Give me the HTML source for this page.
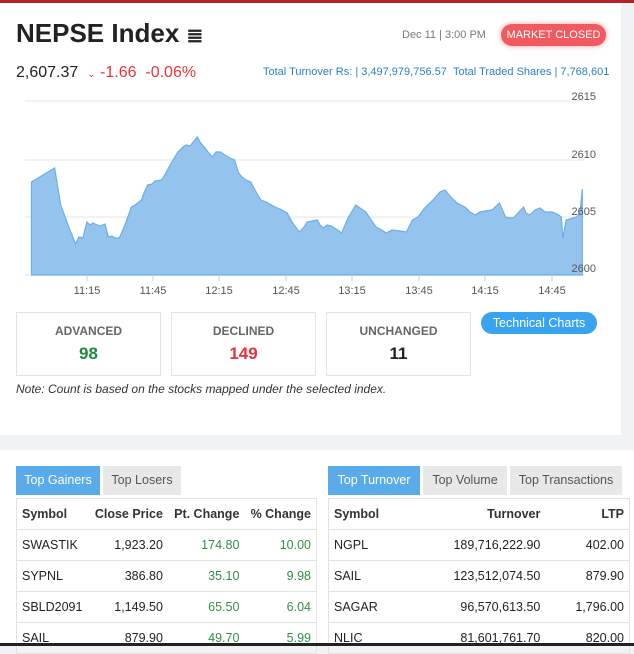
<!DOCTYPE html>
<html><head><style>
*{margin:0;padding:0;box-sizing:border-box}
body{width:634px;height:646px;background:#f0f2f5;font-family:"Liberation Sans",sans-serif;position:relative;overflow:hidden;color:#222}
.a{position:absolute}
.card{background:#fff}
.box{position:absolute;top:312px;width:145px;height:64px;border:1px solid #e3e3e3;text-align:center}
.box .l{font-size:12px;font-weight:bold;color:#666;margin-top:11px}
.box .v{font-size:17px;font-weight:bold;margin-top:6px}
.tab{position:absolute;top:466px;height:29px;line-height:29px;font-size:12.5px;text-align:center;background:#e8e8e8;color:#555}
.tab.on{background:#5aabea;color:#fff}
table{position:absolute;top:498px;border-collapse:collapse;font-size:12.5px;border-top:1px solid #e3e3e3}
td,th{height:31px;border-bottom:1px solid #e3e3e3;padding:0 5px;white-space:nowrap}
th{font-weight:bold;color:#333}
.g{color:#2e9148}
</style></head><body>
<div class="a" style="left:0;top:0;width:634px;height:3px;background:#b3232a"></div>
<div class="a card" style="left:0;top:3px;width:621px;height:432px"></div>
<div class="a card" style="left:0;top:450px;width:634px;height:196px"></div>
<div class="a" style="left:16px;top:18px;font-size:26px;font-weight:bold;color:#222">NEPSE Index <span style="font-size:20px">≣</span></div>
<div class="a" style="left:402px;top:29px;font-size:11px;color:#777">Dec 11 | 3:00 PM</div>
<div class="a" style="left:501px;top:24px;width:105px;height:22px;border-radius:11px;background:#f25a5f;color:#fff;font-size:11px;line-height:22px;text-align:center;box-shadow:0 0 6px #f7a0a0">MARKET CLOSED</div>
<div class="a" style="left:16px;top:64px;font-size:16px;color:#222">2,607.37 <span style="color:#e8333a;font-size:16px">&nbsp;<span style="font-size:10px">⌄</span> -1.66 &nbsp;-0.06%</span></div>
<div class="a" style="left:263px;top:66px;font-size:11px;color:#2a7fc4">Total Turnover Rs: | 3,497,979,756.57 &nbsp;Total Traded Shares | 7,768,601</div>
<svg class="a" style="left:0;top:0" width="634" height="300">
<g stroke="#e5e5e5" stroke-width="1"><line x1="25" y1="101" x2="584" y2="101"/><line x1="25" y1="160" x2="584" y2="160"/><line x1="25" y1="217" x2="584" y2="217"/><line x1="25" y1="275" x2="584" y2="275"/></g>
<polygon fill="#94c4ee" stroke="#6aaee6" stroke-width="1.2" points="31.5,182 54.6,168 60.7,205 68.7,227 72,235 75.6,244 78.9,237 82.9,238 86.9,222 90,225 93,223 95,224 100,226 105,224 108.4,237 112,236 115,238 119.3,238 125,225 131.4,207 135,205 141.5,200 144,193 147.6,185 152,184 155,181 161.7,180 165.8,173 170,165 177.9,152 183,147 186,145 190,146 197.3,137 200,142 204.2,147 208,152 212.3,157 216,152 220.4,152 225,155 230,158 234.5,160 238.6,173 242,177 246,180 250.7,182 255,190 260.8,200 266,202 275,207 280,209 287.1,213 292,222 299.2,232 304,227 307.3,222 312,221 317.4,220 320,225 323.5,228 327,225 331.6,226 336,229 341.7,233 348,218 355.8,205 360,208 366,212 371,220 376,227 380,229 386.2,233 392,230 400,231 406.4,232 412.5,220 418,217 424.6,208 433,200 440,192 444.8,190 450,196 457,203 461,205 465,207 470,212 475.1,215 480,212 485.2,211 492,210 499.4,203 505.5,217 509,218 513.5,218 518,213 523.6,207 526,213 529.7,215 535,210 539.8,208 545,212 552,212 557,214 561.3,217 562.9,238 566.1,220 570,219 576.2,217 580,213 582.3,189 582.3,275 31.5,275"/>
<g font-size="11" fill="#555" text-anchor="end"><text x="596" y="100">2615</text><text x="596" y="158">2610</text><text x="596" y="215">2605</text><text x="596" y="272">2600</text></g>
<g stroke="#ccc"><line x1="87" y1="275" x2="87" y2="281"/><line x1="153" y1="275" x2="153" y2="281"/><line x1="219" y1="275" x2="219" y2="281"/><line x1="286" y1="275" x2="286" y2="281"/><line x1="352" y1="275" x2="352" y2="281"/><line x1="419" y1="275" x2="419" y2="281"/><line x1="485" y1="275" x2="485" y2="281"/><line x1="552" y1="275" x2="552" y2="281"/></g>
<g font-size="11" fill="#555" text-anchor="middle"><text x="87" y="294">11:15</text><text x="153" y="294">11:45</text><text x="219" y="294">12:15</text><text x="286" y="294">12:45</text><text x="352" y="294">13:15</text><text x="419" y="294">13:45</text><text x="485" y="294">14:15</text><text x="552" y="294">14:45</text></g>
</svg>
<div class="box" style="left:16px"><div class="l">ADVANCED</div><div class="v" style="color:#1f8a3b">98</div></div>
<div class="box" style="left:171px"><div class="l">DECLINED</div><div class="v" style="color:#e8333a">149</div></div>
<div class="box" style="left:326px"><div class="l">UNCHANGED</div><div class="v" style="color:#222">11</div></div>
<div class="a" style="left:481px;top:312px;width:116px;height:22px;border-radius:11px;background:#3aa3f0;color:#fff;font-size:12.5px;line-height:22px;text-align:center">Technical Charts</div>
<div class="a" style="left:16px;top:382px;font-size:12px;font-style:italic;color:#333">Note: Count is based on the stocks mapped under the selected index.</div>
<div class="tab on" style="left:16px;width:84px">Top Gainers</div>
<div class="tab" style="left:103px;width:78px">Top Losers</div>
<div class="tab on" style="left:328px;width:92px">Top Turnover</div>
<div class="tab" style="left:423px;width:84px">Top Volume</div>
<div class="tab" style="left:510px;width:112px">Top Transactions</div>
<table style="left:16px;width:301px;border-left:1px solid #e3e3e3;border-right:1px solid #e3e3e3">
<tr><th style="text-align:left">Symbol</th><th style="text-align:right">Close Price</th><th style="text-align:right">Pt. Change</th><th style="text-align:right">% Change</th></tr>
<tr><td>SWASTIK</td><td align="right">1,923.20</td><td align="right" class="g">174.80</td><td align="right" class="g">10.00</td></tr>
<tr><td>SYPNL</td><td align="right">386.80</td><td align="right" class="g">35.10</td><td align="right" class="g">9.98</td></tr>
<tr><td>SBLD2091</td><td align="right">1,149.50</td><td align="right" class="g">65.50</td><td align="right" class="g">6.04</td></tr>
<tr><td>SAIL</td><td align="right">879.90</td><td align="right" class="g">49.70</td><td align="right" class="g">5.99</td></tr>
</table>
<table style="left:328px;width:302px;border-left:1px solid #e3e3e3;border-right:1px solid #e3e3e3">
<tr><th style="text-align:left">Symbol</th><th style="text-align:right">Turnover</th><th style="text-align:right">LTP</th></tr>
<tr><td>NGPL</td><td align="right">189,716,222.90</td><td align="right">402.00</td></tr>
<tr><td>SAIL</td><td align="right">123,512,074.50</td><td align="right">879.90</td></tr>
<tr><td>SAGAR</td><td align="right">96,570,613.50</td><td align="right">1,796.00</td></tr>
<tr><td>NLIC</td><td align="right">81,601,761.70</td><td align="right">820.00</td></tr>
</table>
<div class="a" style="left:0;top:643px;width:634px;height:3px;background:#222"></div>
</body></html>
